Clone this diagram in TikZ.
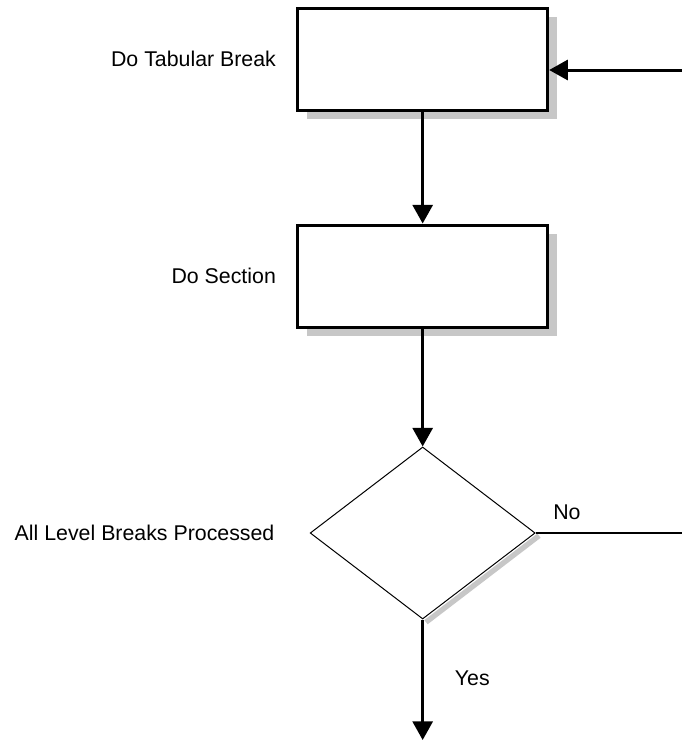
\documentclass[tikz,border=0pt]{standalone}
\usepackage{fontspec}
\setmainfont{Liberation Sans}
\usetikzlibrary{arrows.meta, positioning, shapes.geometric, shadows, backgrounds}

\begin{document}
\begin{tikzpicture}[
    >={Triangle[length=14pt, width=15pt]},
    box/.style={draw, line width=2.25pt, fill=white, minimum width=187.5pt,
                minimum height=76.5pt, inner sep=0pt,
                drop shadow={shadow xshift=6.75pt, shadow yshift=-6.75pt,
                             fill=black!22, opacity=1}},
    decision/.style={draw, diamond, line width=0.75pt, fill=white,
                     minimum width=168.75pt, minimum height=129pt, inner sep=0pt},
    lbl/.style={font=\fontsize{16}{19}\selectfont, inner sep=0pt},
    flow/.style={->, line width=2.25pt}
  ]
  \useasboundingbox (0,0) rectangle (511.5pt,-555pt);

  \node[box] (tab) at (317pt,-44.25pt) {};
  \node[box, below=84pt of tab] (sec) {};
  \node[decision, below=88.5pt of sec] (dec) {};

  % shadow on the lower right edge of the diamond
  \begin{scope}[on background layer]
    \draw[black!22, line width=4pt] ([shift={(2.5pt,-2pt)}]dec.east)
      -- ([shift={(2.5pt,-2pt)}]dec.south);
  \end{scope}

  \node[lbl, left=15pt of tab] (tablbl) {Do Tabular Break};
  \node[lbl, left=15pt of sec] (seclbl) {Do Section};
  \node[lbl, left=26.25pt of dec] (declbl) {All Level Breaks Processed};

  \coordinate (loop) at (511.5pt,-52.5pt);
  \coordinate (no) at (511.5pt,0);
  \coordinate (done) at (dec.south |- 0,-555pt);

  \draw[flow] (loop) -- (loop -| tab.east);
  \draw[flow] (tab) -- (sec);
  \draw[flow] (sec) -- (dec);
  \draw[line width=1.5pt] (dec.east) -- (dec.east -| no);
  \draw[flow] (dec.south) -- (done);

  \node[lbl, above right=10pt and 13pt of dec.east] (nolbl) {No};
  \node[lbl, right=24pt of dec.south, yshift=-44pt] (yeslbl) {Yes};
\end{tikzpicture}
\end{document}
